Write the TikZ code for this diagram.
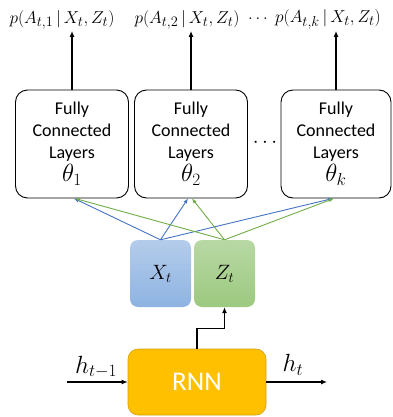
\documentclass[tikz,border=0pt]{standalone}
\usepackage{fontspec}
\setsansfont{Carlito}
\usetikzlibrary{arrows.meta,calc}

\definecolor{xblue}{HTML}{4472C4}
\definecolor{zgreen}{HTML}{70AD47}
\definecolor{xfillA}{HTML}{B4CCEA}
\definecolor{xfillB}{HTML}{8EB3E2}
\definecolor{zfillA}{HTML}{B8D8A4}
\definecolor{zfillB}{HTML}{9CC97F}
\definecolor{rnnfill}{HTML}{FFC000}
\definecolor{rnnedge}{HTML}{D4A017}

\tikzset{
  fcbox/.style={draw, line width=0.9pt, rounded corners=12pt, minimum width=113pt,
    minimum height=108pt, align=center, inner sep=0pt,
    font=\sffamily\fontsize{18}{22}\selectfont},
  probtext/.style={font=\fontsize{19}{20}\selectfont, inner sep=1pt, anchor=south},
  featbox/.style={rounded corners=8pt, minimum width=61pt, minimum height=67pt,
    inner sep=0pt, font=\fontsize{22}{24}\selectfont},
  uparrow/.style={-{Latex[length=6pt,width=5pt]}, line width=1.1pt},
  bluearrow/.style={-{Latex[length=5pt,width=4pt]}, draw=xblue, line width=0.9pt},
  greenarrow/.style={-{Latex[length=5pt,width=4pt]}, draw=zgreen, line width=0.9pt},
  harrow/.style={-{Latex[length=6pt,width=5pt]}, line width=1.1pt},
}

\newcommand{\headtheta}[1]{{\fontsize{25}{25}\selectfont$\theta_{#1}$}}

\begin{document}
\begin{tikzpicture}[x=1pt,y=-1pt]
\useasboundingbox (0,0) rectangle (392,417);

% output distributions
\node[probtext] (p1) at (62,31) {$p(A_{t,1}\,|\,X_t,Z_t)$};
\node[probtext] (p2) at (187,31) {$p(A_{t,2}\,|\,X_t,Z_t)$};
\node[probtext] (p3) at (328,31) {$p(A_{t,k}\,|\,X_t,Z_t)$};
\node[font=\fontsize{19}{20}\selectfont, inner sep=0pt] (pdots) at (258,19) {$\ldots$};

% fully connected heads
\node[fcbox] (fc1) at (72,144) {Fully\\Connected\\Layers\\[1pt]\headtheta{1}};
\node[fcbox] (fc2) at (191,144) {Fully\\Connected\\Layers\\[1pt]\headtheta{2}};
\node[fcbox, minimum width=110pt] (fc3) at (336,144) {Fully\\Connected\\Layers\\[1pt]\headtheta{k}};
\node[font=\fontsize{20}{20}\selectfont, inner sep=0pt] (fcdots) at (265,143) {$\cdots$};

\draw[uparrow] (fc1.north) -- (p1.south -| fc1.north);
\draw[uparrow] (fc2.north) -- (p2.south -| fc2.north);
\draw[uparrow] (fc3.north) -- (p3.south -| fc3.north);

% features
\node[featbox, top color=xfillA, bottom color=xfillB] (xt) at (160.5,273.5) {$X_t$};
\node[featbox, top color=zfillA, bottom color=zfillB] (zt) at (224.5,273.5) {$Z_t$};

\draw[bluearrow] (xt.north) -- ($(fc1.south)+(2,0)$);
\draw[bluearrow] (xt.north) -- ($(fc2.south)+(-3,0)$);
\draw[bluearrow] (xt.north) -- ($(fc3.south)+(-3,0)$);
\draw[greenarrow] (zt.north) -- ($(fc1.south)+(3,0)$);
\draw[greenarrow] (zt.north) -- ($(fc2.south)+(1,0)$);
\draw[greenarrow] (zt.north) -- ($(fc3.south)+(-2,0)$);

% recurrent cell
\node[draw=rnnedge, fill=rnnfill, line width=0.6pt, rounded corners=10pt,
  minimum width=138pt, minimum height=66pt, text=white,
  font=\sffamily\fontsize{27}{30}\selectfont] (rnn) at (197,382) {RNN};

\draw[uparrow] (rnn.north) -- ++(0,-20) -| (zt.south);

\coordinate (hin) at (67,382);
\coordinate (hout) at (327,382);
\draw[harrow] (hin) -- (rnn.west);
\draw[harrow] (rnn.east) -- (hout);
\node[font=\fontsize{23}{23}\selectfont, inner sep=0pt] (hprev) at (96,367) {$h_{t-1}$};
\node[font=\fontsize{23}{23}\selectfont, inner sep=0pt] (hcur) at (293,365) {$h_t$};
\end{tikzpicture}
\end{document}
